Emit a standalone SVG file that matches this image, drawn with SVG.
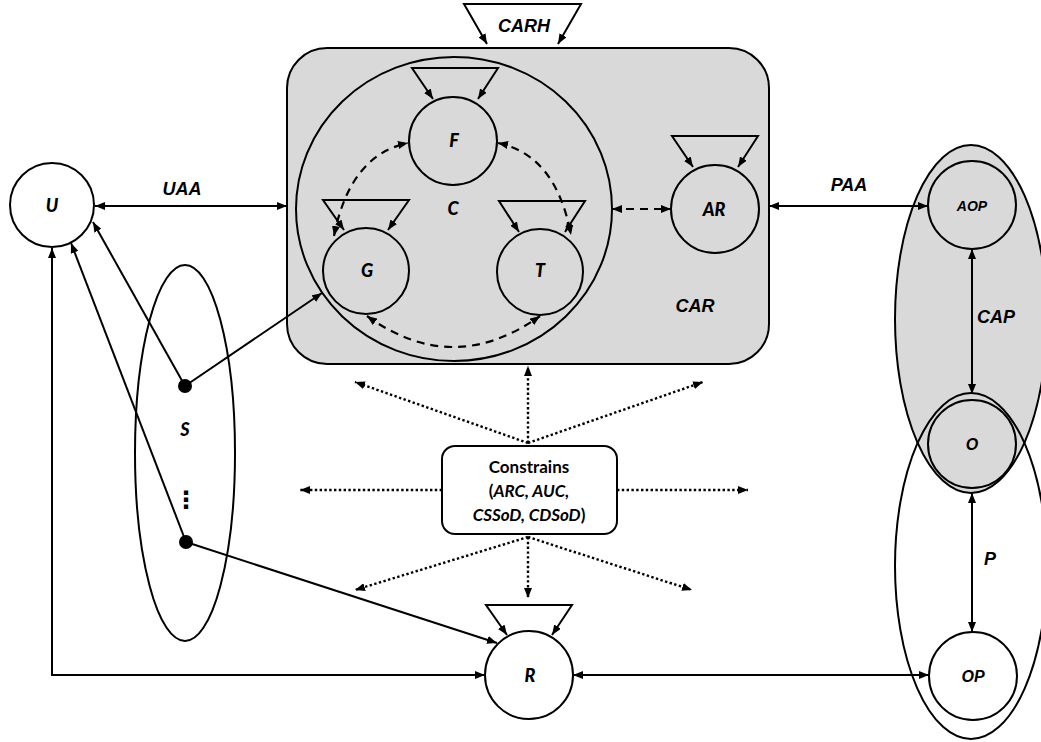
<svg xmlns="http://www.w3.org/2000/svg" width="1041" height="742" viewBox="0 0 1041 742">
<defs>
<marker id="ah" viewBox="0 0 10 8" refX="10" refY="4" markerWidth="10" markerHeight="8" markerUnits="userSpaceOnUse" orient="auto-start-reverse">
<path d="M0,0 L10,4 L0,8 z" fill="#000"/>
</marker>
<style>
.ln{fill:none;stroke:#000;stroke-width:2}
.nd{stroke:#000;stroke-width:2}
.gray{fill:#d9d9d9}
.white{fill:#fff}
.none{fill:none}
.dash{fill:none;stroke:#000;stroke-width:2.2;stroke-dasharray:8,6}
.dot{fill:none;stroke:#000;stroke-width:2.4;stroke-dasharray:2.4,2.4}
.a2{marker-start:url(#ah);marker-end:url(#ah)}
.a1{marker-end:url(#ah)}
.cal{font-family:Lato,"Open Sans",sans-serif;font-weight:900;font-style:italic;font-size:18px;text-anchor:middle;fill:#000}
.ari{font-family:"Liberation Sans",Arial,sans-serif;font-weight:bold;font-style:italic;font-size:18px;text-anchor:middle;fill:#000}
.box{font-family:Lato,"Open Sans",sans-serif;font-weight:bold;font-size:17px;text-anchor:middle;fill:#000}
</style>
</defs>
<rect width="1041" height="742" fill="#fff"/>

<g id="node-CAR">
<rect x="287" y="48" width="482" height="316" rx="40" class="nd gray"/>
<text x="695" y="312" class="ari">CAR</text>
</g>
<g id="node-C">
<ellipse cx="454" cy="209" rx="158" ry="152" class="nd none"/>
<text x="453" y="215" class="cal">C</text>
</g>
<g id="node-F">
<circle cx="453" cy="141" r="44" class="nd gray"/>
<text x="454" y="147" class="cal">F</text>
</g>
<g id="node-G">
<circle cx="366" cy="271" r="43" class="nd gray"/>
<text x="367" y="277" class="cal">G</text>
</g>
<g id="node-T">
<circle cx="540" cy="272" r="43" class="nd gray"/>
<text x="540" y="277" class="cal">T</text>
</g>
<g id="node-AR">
<circle cx="715" cy="209" r="44" class="nd gray"/>
<text x="714" y="216" class="cal">AR</text>
</g>
<g id="node-U">
<circle cx="52" cy="205" r="42" class="nd white"/>
<text x="52" y="212" class="cal">U</text>
</g>
<g id="node-S">
<ellipse cx="185" cy="453" rx="50" ry="188" class="nd none"/>
<circle cx="185" cy="386" r="7" fill="#000"/>
<circle cx="186" cy="542" r="7" fill="#000"/>
<text x="185" y="436" class="cal">S</text>
<text x="186" y="508" style="font-family:'DejaVu Sans',sans-serif;font-size:24px;font-weight:bold;text-anchor:middle">⋮</text>
</g>
<g id="node-R">
<circle cx="529" cy="675" r="44" class="nd white"/>
<text x="530" y="682" class="cal">R</text>
</g>
<g id="node-Constrains">
<rect x="442" y="446" width="175" height="88" rx="13" class="nd white"/>
<text x="529" y="473" class="box">Constrains</text>
<text x="529" y="497" class="box">(<tspan font-style="italic">ARC, AUC,</tspan></text>
<text x="529" y="521" class="box"><tspan font-style="italic">CSSoD, CDSoD</tspan>)</text>
</g>
<g id="node-CAP">
<ellipse cx="971" cy="319" rx="76" ry="174" class="nd gray"/>
</g>
<g id="node-P">
<ellipse cx="971" cy="566" rx="76" ry="173" class="nd none"/>
</g>
<g id="node-AOP">
<circle cx="972" cy="205" r="44" class="nd gray"/>
<text x="972" y="211" class="ari" style="font-size:14px">AOP</text>
</g>
<g id="node-O">
<circle cx="972" cy="444" r="44" class="nd gray"/>
<text x="972" y="450" class="ari" style="font-size:16px">O</text>
</g>
<g id="node-OP">
<circle cx="973" cy="676" r="44" class="nd white"/>
<text x="973" y="682" class="ari" style="font-size:16px">OP</text>
</g>

<g id="connectors">
<path d="M487,44 L464,4 L581,4 L558,44" class="ln a2"/>
<path d="M433,99 L412,68 L498,68 L478,99" class="ln a2"/>
<path d="M344,230 L323,200 L409,200 L388,230" class="ln a2"/>
<path d="M519,232 L499,201 L585,201 L565,232" class="ln a2"/>
<path d="M693,167 L672,136 L758,136 L738,167" class="ln a2"/>
<path d="M507,635 L486,605 L572,605 L552,635" class="ln a2"/>
<path d="M334,236 Q350,155 408,143" class="dash a2"/>
<path d="M498,143 Q556,155 571,235" class="dash a2"/>
<path d="M367,316 Q453,378 540,316" class="dash a2"/>
<path d="M612,209 L671,209" class="dash a2"/>
<path d="M95,206 L287,206" class="ln a2"/>
<path d="M769,206 L928,206" class="ln a2"/>
<path d="M185,386 L93,222" class="ln a1"/>
<path d="M186,542 L71,243" class="ln a1"/>
<path d="M185,386 L322,293" class="ln a1"/>
<path d="M186,542 L497,643" class="ln a1"/>
<path d="M485,675 L52,675 L52,248" class="ln a2"/>
<path d="M573,675 L929,675" class="ln a2"/>
<path d="M972,249 L972,394" class="ln a2"/>
<path d="M972,493 L972,632" class="ln a2"/>
<path d="M528,443 L528,366" class="dot a1"/>
<path d="M528,443 L355,382" class="dot a1"/>
<path d="M528,443 L703,382" class="dot a1"/>
<path d="M442,490 L300,490" class="dot a1"/>
<path d="M617,490 L748,490" class="dot a1"/>
<path d="M528,537 L528,598" class="dot a1"/>
<path d="M528,537 L355,590" class="dot a1"/>
<path d="M528,537 L692,590" class="dot a1"/>
</g>
<g id="edge-labels">
<text x="182" y="195" class="ari">UAA</text>
<text x="849" y="191" class="ari">PAA</text>
<text x="524" y="32" class="ari">CARH</text>
<text x="996" y="323" class="ari">CAP</text>
<text x="990" y="565" class="ari">P</text>
</g>
</svg>
